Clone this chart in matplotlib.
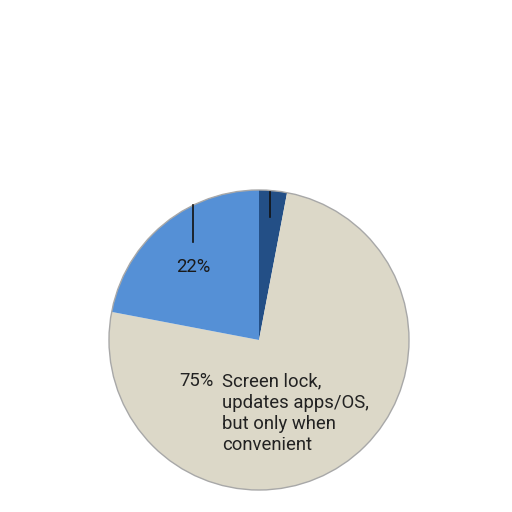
import numpy as np
import matplotlib.pyplot as plt

# slices, clockwise from 12 o'clock
shares = [3, 75, 22]
labels = ["", "75%", "22%"]
colors = ["#234f86", "#dcd8c8", "#5590d6"]
big_text = "Screen lock,\nupdates apps/OS,\nbut only when\nconvenient"

cx, cy, R = 259, 172, 150
fs = 13.3

fig = plt.figure(figsize=(5.12, 5.12), dpi=100)
ax = fig.add_axes([0, 0, 1, 1])

wedges, _ = ax.pie(shares, colors=colors, startangle=90, counterclock=False,
                   center=(cx, cy), radius=R,
                   wedgeprops=dict(edgecolor="none"))
circle = plt.Circle((cx, cy), R, fill=False, edgecolor="#a8a8a8", lw=1.0)
ax.add_patch(circle)
ax.set_xlim(0, 512)
ax.set_ylim(0, 512)
ax.set_aspect("equal")
ax.axis("off")

# leader ticks for the small slices
fracs = np.cumsum([0] + shares) / sum(shares)
for i in (0, 2):
    mid = (fracs[i] + fracs[i + 1]) / 2 * 2 * np.pi
    lx = cx + 0.66 * R * np.sin(mid)
    if i == 0:
        lx = cx + 11
        ax.plot([lx, lx], [cy + R - 2, cy + R - 27], color="#111111", lw=1.2)
    else:
        lx = lx - 3
        ax.plot([lx, lx], [cy + R - 15, cy + R - 52], color="#111111", lw=1.2)
        ax.text(lx, cy + R - 77, labels[i], ha="center", va="center",
                fontsize=fs, color="#1a1a1a", family="Roboto")

ax.text(214, 131, labels[1], ha="right", va="center", fontsize=fs,
        color="#222222", family="Roboto")
ax.text(222, 140, big_text, ha="left", va="top", fontsize=fs,
        color="#222222", family="Roboto", linespacing=1.25)

fig.savefig("out.png", dpi=100, facecolor="white")
